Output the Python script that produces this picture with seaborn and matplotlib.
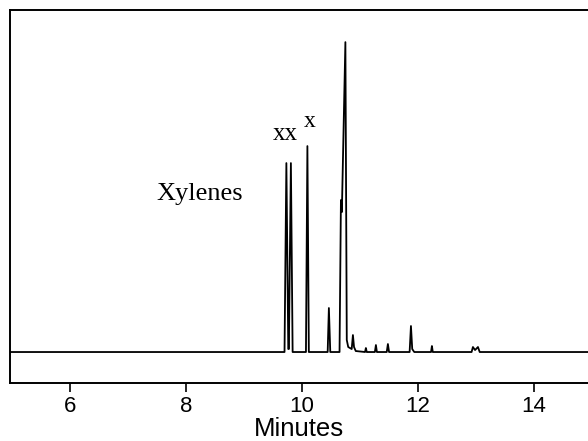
import matplotlib
matplotlib.use('Agg')
import matplotlib.pyplot as plt
import seaborn as sns
import pandas as pd

# chromatogram trace (time in minutes, detector signal)
times = [4.96, 9.70, 9.732, 9.765, 9.775, 9.81, 9.84,
         10.07, 10.095, 10.12,
         10.445, 10.466, 10.49,
         10.65, 10.674, 10.69, 10.751, 10.775, 10.80, 10.86, 10.881, 10.90, 10.93,
         11.09, 11.105, 11.12,
         11.26, 11.278, 11.295,
         11.465, 11.485, 11.505,
         11.86, 11.883, 11.905, 11.94,
         12.23, 12.245, 12.26,
         12.93, 12.953, 12.99, 13.04, 13.07,
         14.94]
signal = [0, 0, 189, 3, 3, 189, 0,
          0, 206, 0,
          0, 44, 0,
          0, 152, 140, 310, 12, 5, 3, 17, 5, 1,
          0, 4, 0,
          0, 7, 0,
          0, 8, 0,
          0, 26, 3, 0,
          0, 6, 0,
          0, 5, 2, 5, 0,
          0]

tick_vals = [6, 8, 10, 12, 14]

trace = pd.DataFrame({'Minutes': times, 'Signal': signal})

sns.set_style('ticks')
plt.rcParams['font.family'] = ['Liberation Sans', 'DejaVu Sans']
plt.rcParams['text.color'] = 'black'
plt.rcParams['axes.labelcolor'] = 'black'
plt.rcParams['xtick.color'] = 'black'

fig = plt.figure(figsize=(5.88, 4.41), dpi=100)
ax = fig.add_axes([0.017, 0.1315, 0.983, 0.8455])

sns.lineplot(data=trace, x='Minutes', y='Signal', estimator=None, color='black',
             linewidth=1.3, ax=ax)

ax.set_xlim(4.96, 14.94)
ax.set_ylim(-31, 342)
ax.set_xticks(tick_vals)
ax.set_xticklabels([str(v) for v in tick_vals], fontsize=16)
ax.set_yticks([])
ax.set_ylabel('')
ax.set_xlabel('Minutes', fontsize=18.5, labelpad=0)
ax.tick_params(axis='x', direction='out', length=6.5, width=1.2, pad=2.5, color='black')
for side in ['left', 'top', 'bottom']:
    ax.spines[side].set_linewidth(1.4)
    ax.spines[side].set_color('black')
ax.spines['right'].set_visible(False)

serif = ['Liberation Serif', 'DejaVu Serif']
ax.text(8.24, 158, 'Xylenes', family=serif, fontsize=19, ha='center', va='center')
ax.text(9.72, 212, 'xx', family=serif, fontsize=18, ha='center', va='baseline')
ax.text(10.14, 225, 'x', family=serif, fontsize=17, ha='center', va='baseline')

fig.savefig('out.png', dpi=100)
